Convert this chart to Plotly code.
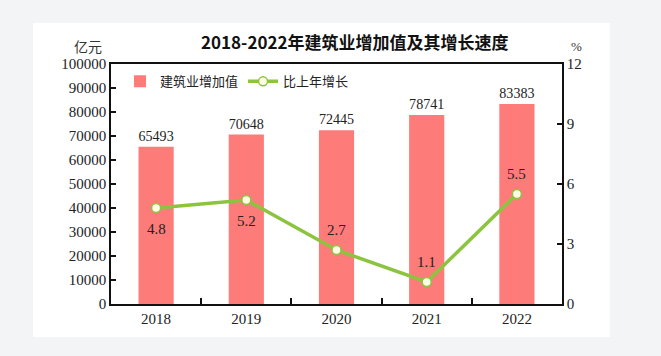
import plotly.graph_objects as go

years = ["2018", "2019", "2020", "2021", "2022"]
value_added = [65493, 70648, 72445, 78741, 83383]
growth = [4.8, 5.2, 2.7, 1.1, 5.5]
growth_label_side = ["below", "below", "above", "above", "above"]

SERIF = "Liberation Serif, Times New Roman, serif"
CJK = "Noto Sans CJK SC, sans-serif"

fig = go.Figure()
fig.add_trace(go.Bar(
    x=years, y=value_added, name="建筑业增加值",
    marker=dict(color="#fd7b79", line=dict(width=0)),
    width=0.39,
    text=[str(v) for v in value_added], textposition="outside",
    textfont=dict(family=SERIF, size=15, color="#222"),
    cliponaxis=False,
))
fig.add_trace(go.Scatter(
    x=years, y=growth, name="比上年增长", yaxis="y2",
    mode="lines+markers",
    line=dict(color="#8cc43f", width=3.5),
    marker=dict(size=9, color="#fffde6", line=dict(color="#8cc43f", width=1.5)),
    cliponaxis=False,
))

annotations = [
    dict(text="2018-2022年建筑业增加值及其增长速度", xref="paper", yref="paper",
         x=0.54, y=1.095, xanchor="center", yanchor="middle", showarrow=False,
         font=dict(family=CJK, size=17, color="#111", weight="bold")),
    dict(text="亿元", xref="paper", yref="paper", x=-0.05, y=1.075,
         xanchor="center", yanchor="middle", showarrow=False,
         font=dict(family=CJK, size=14, color="#333")),
    dict(text="%", xref="paper", yref="paper", x=1.033, y=1.075,
         xanchor="center", yanchor="middle", showarrow=False,
         font=dict(family=SERIF, size=13, color="#333")),
]
for i, (g, side) in enumerate(zip(growth, growth_label_side)):
    annotations.append(dict(
        text=f"{g:.1f}", x=i, y=g, xref="x", yref="y2", showarrow=False,
        xanchor="center", yanchor="middle",
        yshift=(-21 if side == "below" else 20),
        font=dict(family=SERIF, size=15, color="#222"),
    ))

fig.update_layout(
    width=661, height=356,
    margin=dict(l=111, r=99, t=64, b=52),
    paper_bgcolor="#f3f4f6",
    plot_bgcolor="#e9f1fb",
    showlegend=True,
    legend=dict(orientation="h", x=0.02, y=0.99, xanchor="left", yanchor="top",
                bgcolor="rgba(0,0,0,0)", font=dict(family=CJK, size=13, color="#222"),
                itemwidth=30, tracegroupgap=0),
    xaxis=dict(type="category", range=[-0.5, 4.5], autorange=False,
               tickson="boundaries", ticks="inside", ticklen=6,
               tickcolor="#111", tickwidth=1.5,
               showline=True, linecolor="#111", linewidth=1.5, mirror=True,
               showgrid=False, tickfont=dict(family=SERIF, size=15, color="#222")),
    yaxis=dict(range=[0, 100000], dtick=10000, tickformat="d", ticks="inside", ticklen=5,
               tickcolor="#111", tickwidth=1.5,
               showline=True, linecolor="#111", linewidth=1.5,
               showgrid=True, gridcolor="#ffffff", gridwidth=1, zeroline=False,
               tickfont=dict(family=SERIF, size=15, color="#222")),
    yaxis2=dict(range=[0, 12], dtick=3, overlaying="y", side="right",
                ticks="inside", ticklen=5, tickcolor="#111", tickwidth=1.5,
                showline=True, linecolor="#111", linewidth=1.5,
                showgrid=False, zeroline=False,
                tickfont=dict(family=SERIF, size=15, color="#222")),
    shapes=[dict(type="rect", xref="paper", yref="paper",
                 x0=-0.173, x1=1.106, y0=-0.1375, y1=1.171,
                 fillcolor="#ffffff", line=dict(width=0), layer="below")],
    annotations=annotations,
)

fig.write_html(
    "out.html",
    config={"displayModeBar": False},
    post_script="document.body.style.margin='0';document.body.style.background='#f3f4f6';",
)
